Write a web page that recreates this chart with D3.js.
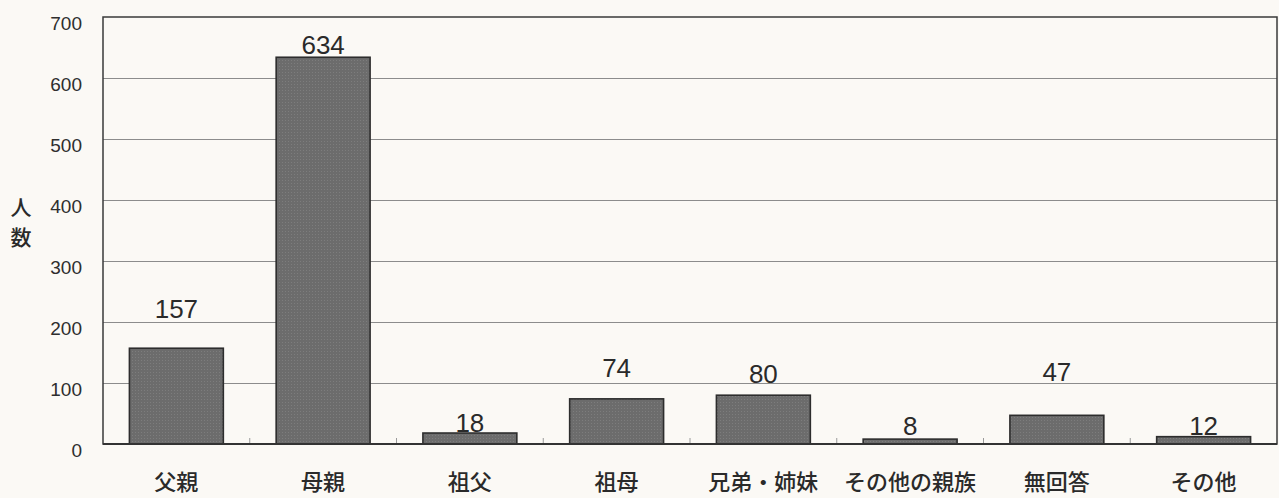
<!DOCTYPE html>
<html lang="ja">
<head>
<meta charset="utf-8">
<script src="https://cdn.jsdelivr.net/npm/d3@7/dist/d3.min.js"></script>
<style>
  html, body { margin: 0; padding: 0; background: #fbf9f5; }
  svg { display: block; }
</style>
</head>
<body>
<svg id="chart" width="1279" height="498"></svg>
<script>
// 人数 by category
const categories = ["父親", "母親", "祖父", "祖母", "兄弟・姉妹", "その他の親族", "無回答", "その他"];
const counts = [157, 634, 18, 74, 80, 8, 47, 12];
const yTicks = [0, 100, 200, 300, 400, 500, 600, 700];
const yTitle = ["人", "数"];

// how far each value label sits above its bar (px)
const labelLift = [30, 3, 1, 22, 12, 4, 34, 2];

const W = 1279, H = 498;
const plot = { left: 103, right: 1277, top: 17, bottom: 444 };

const svg = d3.select("#chart");

const x = d3.scaleBand()
  .domain(categories)
  .range([plot.left, plot.right])
  .paddingInner(0.36)
  .paddingOuter(0.18);

const y = d3.scaleLinear()
  .domain([0, 700])
  .range([plot.bottom, plot.top]);

// halftone-like texture for bars
const defs = svg.append("defs");
const pat = defs.append("pattern")
  .attr("id", "dots")
  .attr("width", 3).attr("height", 3)
  .attr("patternUnits", "userSpaceOnUse");
pat.append("rect").attr("width", 3).attr("height", 3).attr("fill", "#6c6c6c");
pat.append("rect").attr("x", 0).attr("y", 0).attr("width", 1).attr("height", 1).attr("fill", "#7d7d7d");

// gridlines
svg.append("g")
  .selectAll("line")
  .data(yTicks.filter(d => d > 0 && d < 700))
  .join("line")
  .attr("x1", plot.left).attr("x2", plot.right)
  .attr("y1", d => Math.round(y(d)) + 0.5)
  .attr("y2", d => Math.round(y(d)) + 0.5)
  .attr("stroke", "#8c8c8c")
  .attr("stroke-width", 1.2);

// plot frame
svg.append("rect")
  .attr("x", plot.left).attr("y", plot.top)
  .attr("width", plot.right - plot.left)
  .attr("height", plot.bottom - plot.top)
  .attr("fill", "none")
  .attr("stroke", "#3a3a3a")
  .attr("stroke-width", 1.5);

// y axis labels
const yAxis = d3.axisLeft(y).tickValues(yTicks).tickSize(0).tickPadding(0);
const gy = svg.append("g")
  .attr("transform", `translate(${plot.left - 21},0)`)
  .call(yAxis);
gy.select(".domain").remove();
gy.selectAll("text")
  .attr("font-family", "'Liberation Sans', Arial, sans-serif")
  .attr("font-size", 19)
  .attr("fill", "#2e2e2e")
  .attr("dy", "0.65em");

// y axis title (vertical, stacked characters)
svg.append("g")
  .selectAll("text")
  .data(yTitle)
  .join("text")
  .attr("x", 21)
  .attr("y", (d, i) => 215 + i * 30)
  .attr("text-anchor", "middle")
  .attr("font-family", "'Noto Sans CJK JP', sans-serif")
  .attr("font-size", 21)
  .attr("font-weight", 500)
  .attr("fill", "#2a2a2a")
  .text(d => d);

// inward tick marks at category boundaries
const step = x.step();
const bounds = d3.range(1, categories.length).map(i => x(categories[i]) - x.paddingInner() * step / 2);
svg.append("g")
  .selectAll("line")
  .data(bounds)
  .join("line")
  .attr("x1", d => d).attr("x2", d => d)
  .attr("y1", plot.bottom).attr("y2", plot.bottom - 6)
  .attr("stroke", "#9a9a9a")
  .attr("stroke-width", 1);

// bars
svg.append("g")
  .selectAll("rect")
  .data(counts)
  .join("rect")
  .attr("x", (d, i) => x(categories[i]))
  .attr("y", d => y(d))
  .attr("width", x.bandwidth())
  .attr("height", d => y(0) - y(d))
  .attr("fill", "url(#dots)")
  .attr("stroke", "#2d2d2d")
  .attr("stroke-width", 1.6);

// baseline
svg.append("line")
  .attr("x1", plot.left).attr("x2", plot.right)
  .attr("y1", plot.bottom).attr("y2", plot.bottom)
  .attr("stroke", "#333")
  .attr("stroke-width", 2);

// value labels
svg.append("g")
  .selectAll("text")
  .data(counts)
  .join("text")
  .attr("x", (d, i) => x(categories[i]) + x.bandwidth() / 2)
  .attr("y", (d, i) => y(d) - labelLift[i])
  .attr("text-anchor", "middle")
  .attr("font-family", "'Liberation Sans', Arial, sans-serif")
  .attr("font-size", 26)
  .attr("fill", "#2a2a2a")
  .text(d => d);

// category labels
svg.append("g")
  .selectAll("text")
  .data(categories)
  .join("text")
  .attr("x", d => x(d) + x.bandwidth() / 2)
  .attr("y", 490)
  .attr("text-anchor", "middle")
  .attr("font-family", "'Noto Sans CJK JP', sans-serif")
  .attr("font-size", 22)
  .attr("font-weight", 500)
  .attr("fill", "#2a2a2a")
  .text(d => d);
</script>
</body>
</html>
